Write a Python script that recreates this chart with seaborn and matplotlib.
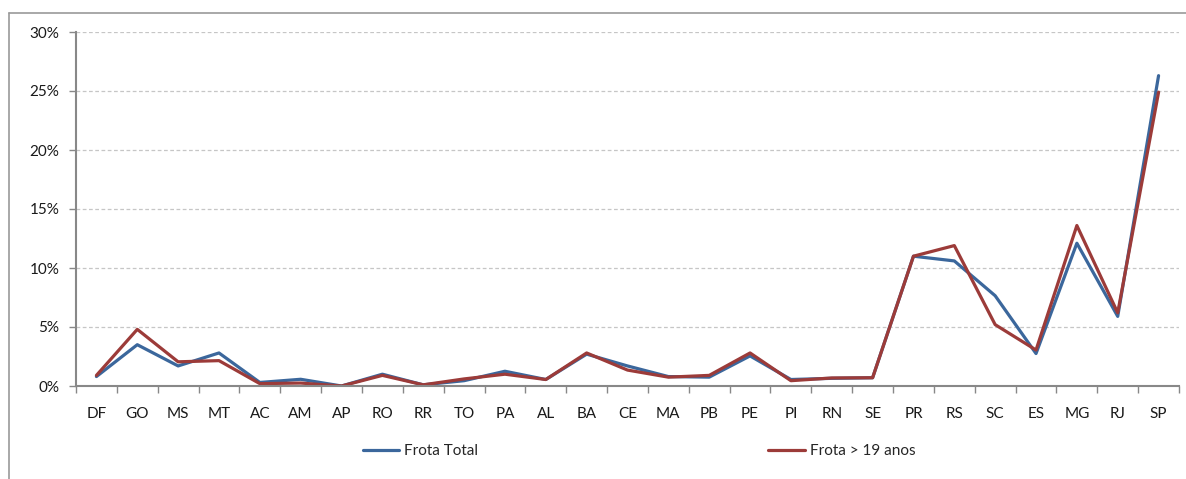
import matplotlib
matplotlib.use("Agg")
import matplotlib.pyplot as plt
from matplotlib.lines import Line2D
from matplotlib.ticker import FixedLocator, PercentFormatter
import pandas as pd
import seaborn as sns

# ── Data (share of fleet per state, %) ────────────────────────────────────────
states = ["DF", "GO", "MS", "MT", "AC", "AM", "AP", "RO", "RR", "TO", "PA", "AL",
          "BA", "CE", "MA", "PB", "PE", "PI", "RN", "SE", "PR", "RS", "SC", "ES",
          "MG", "RJ", "SP"]
frota_total = [0.8, 3.5, 1.7, 2.8, 0.3, 0.57, 0.0, 1.0, 0.1, 0.45, 1.25, 0.55,
               2.7, 1.7, 0.8, 0.75, 2.55, 0.55, 0.65, 0.7, 11.0, 10.6, 7.65, 2.75,
               12.1, 5.9, 26.3]
frota_19 = [0.9, 4.8, 2.05, 2.15, 0.2, 0.25, 0.0, 0.9, 0.1, 0.6, 1.0, 0.55,
            2.8, 1.35, 0.75, 0.9, 2.8, 0.45, 0.68, 0.7, 11.0, 11.9, 5.2, 3.05,
            13.6, 6.2, 24.9]
series_names = ["Frota Total", "Frota > 19 anos"]
y_ticks = [0, 5, 10, 15, 20, 25, 30]

# ── Style ─────────────────────────────────────────────────────────────────────
BLUE = "#3b679c"
RED = "#9c3b39"
AXIS_CLR = "#888888"
GRID_CLR = "#c6c6c6"
TEXT_CLR = "#1a1a1a"

sns.set_theme(style="white")
plt.rcParams["font.family"] = ["Lato", "DejaVu Sans"]
plt.rcParams["font.size"] = 10.5

df = pd.DataFrame({
    "pos": list(range(len(states))) * 2,
    "value": frota_total + frota_19,
    "serie": [series_names[0]] * len(states) + [series_names[1]] * len(states),
})

fig = plt.figure(figsize=(11.86, 4.79), dpi=100)
ax = fig.add_axes([76 / 1186, 1 - 386 / 479, 1103 / 1186, 354 / 479])

sns.lineplot(data=df, x="pos", y="value", hue="serie",
             palette=[BLUE, RED], linewidth=2.3, ax=ax, legend=False)

ax.set_xlim(-0.5, len(states) - 0.5)
ax.set_ylim(0, 30)
ax.set_xlabel("")
ax.set_ylabel("")

ax.set_xticks(range(len(states)))
ax.set_xticklabels(states, color=TEXT_CLR)
ax.xaxis.set_minor_locator(FixedLocator([i - 0.5 for i in range(len(states) + 1)]))
ax.tick_params(axis="x", which="major", length=0, pad=15)
ax.tick_params(axis="x", which="minor", bottom=True, length=5, width=1, color=AXIS_CLR)

ax.set_yticks(y_ticks)
ax.yaxis.set_major_formatter(PercentFormatter(decimals=0))
ax.tick_params(axis="y", left=True, length=5, width=1, color=AXIS_CLR, pad=7,
               labelcolor=TEXT_CLR)

ax.grid(axis="y", color=GRID_CLR, linestyle=(0, (3, 2)), linewidth=0.9)
ax.set_axisbelow(True)
for side in ["top", "right"]:
    ax.spines[side].set_visible(False)
for side in ["left", "bottom"]:
    ax.spines[side].set_color(AXIS_CLR)
    ax.spines[side].set_linewidth(1.5)

# legend below the plot, far-apart entries
handles = [Line2D([], [], color=BLUE, linewidth=2.3),
           Line2D([], [], color=RED, linewidth=2.3)]
fig.legend(handles, series_names, loc="center", ncol=2,
           bbox_to_anchor=(639 / 1186, 28 / 479), frameon=False,
           handlelength=2.4, handletextpad=0.3, columnspacing=19)

# chart-area frame (cropped on the right and bottom)
fig.add_artist(Line2D([9 / 1186, 1.0], [1 - 13 / 479] * 2,
                      transform=fig.transFigure, color="#9a9a9a", linewidth=1.2))
fig.add_artist(Line2D([9 / 1186] * 2, [0, 1 - 13 / 479],
                      transform=fig.transFigure, color="#9a9a9a", linewidth=1.2))

fig.savefig("out.png", dpi=100, facecolor="white")
